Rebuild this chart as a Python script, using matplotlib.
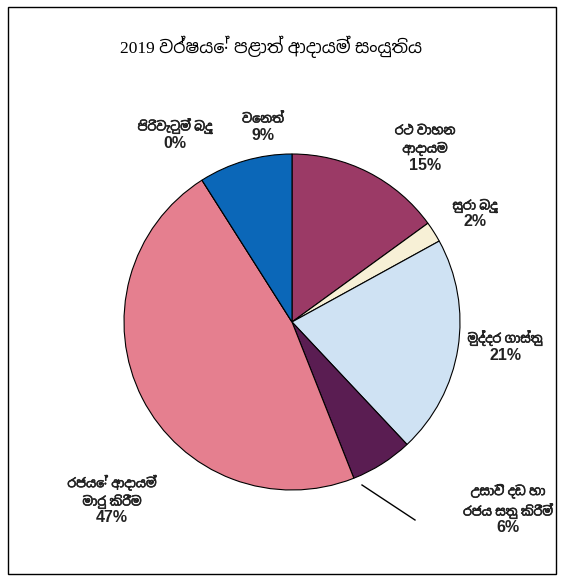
import matplotlib
matplotlib.use("Agg")
import matplotlib.pyplot as plt
from matplotlib import font_manager
from matplotlib.patches import Rectangle
import matplotlib.patheffects as pe

title = "2019 වර්ෂයේ පළාත් ආදායම් සංයුතිය"
categories = ["රථ වාහන\nආදායම", "සුරා බදු", "මුද්දර ගාස්තු",
              "උසාවි දඩ හා\nරජය සතු කිරීම්", "රජයේ ආදායම්\nමාරු කිරීම",
              "පිරිවැටුම් බදු", "වෙනත්"]
values = [15, 2, 21, 6, 47, 0, 9]
colors = ["#9b3a66", "#f7f0d6", "#cfe2f3", "#5a1d52", "#e57f8f", "#3a5fa0", "#0b67b8"]

# look for any installed font with Sinhala coverage
sin_fonts = [f.name for f in font_manager.fontManager.ttflist if "sinhala" in f.name.lower()]
fam = ["Liberation Sans"] + sin_fonts[:1] + ["DejaVu Sans"]
fam_serif = ["Liberation Serif"] + sin_fonts[:1] + ["DejaVu Serif"]

W, H = 566, 580
fig = plt.figure(figsize=(W / 100, H / 100), dpi=100)
fig.patch.set_facecolor("white")
fig.add_artist(Rectangle((8 / W, 6 / H), 548 / W, 567 / H, transform=fig.transFigure,
                         fill=False, edgecolor="black", linewidth=1.0))

cx, cy, r = 292, 322, 168
ax = fig.add_axes([(cx - r) / W, (H - cy - r) / H, 2 * r / W, 2 * r / H])
ax.pie(values, colors=colors, startangle=90, counterclock=False,
       wedgeprops=dict(edgecolor="black", linewidth=0.8))
ax.set_aspect("equal")
ax.set_xlim(-1, 1)
ax.set_ylim(-1, 1)
ax.axis("off")

fig.text(271 / W, 1 - 47 / H, title, ha="center", va="center", fontsize=12.5,
         family=fam_serif)

# (x, y centre of percent line)
label_pos = [(425, 165), (475, 222), (505, 355), (508, 528),
             (112, 518), (175, 143), (263, 135)]
bold = [pe.withStroke(linewidth=0.45, foreground="#222222")]
for cat, v, (px, pp) in zip(categories, values, label_pos):
    fig.text(px / W, 1 - (pp - 9.5) / H, cat, ha="center", va="bottom", color="#222222",
             fontsize=9, fontweight="bold", family=fam, linespacing=1.4,
             path_effects=bold)
    fig.text(px / W, 1 - pp / H, f"{v}%", ha="center", va="center", color="#222222",
             fontsize=11.5, fontweight="bold", family=fam)

fig.add_artist(plt.Line2D([362 / W, 415 / W], [1 - 485 / H, 1 - 520 / H],
                          transform=fig.transFigure, color="black", linewidth=1.0))

fig.savefig("out.png", dpi=100)
